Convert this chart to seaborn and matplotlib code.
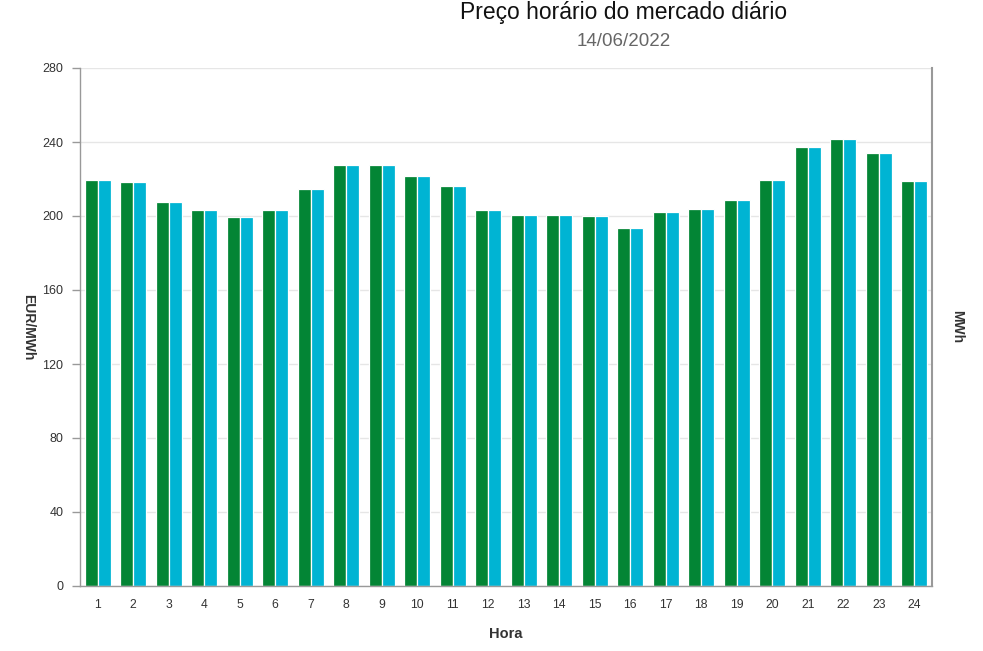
import matplotlib
matplotlib.use("Agg")
import matplotlib.pyplot as plt
import seaborn as sns
import pandas as pd
import numpy as np

hours = [str(h) for h in range(1, 25)]
portugal = [219.5, 218.2, 207.7, 203.2, 199.5, 203.2, 214.4, 227.6, 227.6, 221.8, 216.2, 203.2,
            200.7, 200.7, 200.0, 193.3, 202.2, 203.8, 208.8, 219.5, 237.5, 241.6, 234.2, 218.9]
espanha = [219.5, 218.2, 207.7, 203.2, 199.5, 203.2, 214.4, 227.6, 227.6, 221.8, 216.2, 203.2,
           200.7, 200.7, 200.0, 193.3, 202.2, 203.8, 208.8, 219.5, 237.5, 241.6, 234.2, 218.9]
series_names = ["Portugal", "Espanha"]
colors = ["#038535", "#00b4d3"]
yticks = [0, 40, 80, 120, 160, 200, 240, 280]

df = pd.DataFrame({
    "Hora": hours * 2,
    "Preço": portugal + espanha,
    "Mercado": [series_names[0]] * 24 + [series_names[1]] * 24,
})

sns.set_style("white")
plt.rcParams["font.family"] = ["Liberation Sans", "DejaVu Sans"]

fig = plt.figure(figsize=(9.83, 6.51), dpi=100)
ax = fig.add_axes([80 / 983, 1 - 586 / 651, 852 / 983, 518 / 651])

sns.barplot(data=df, x="Hora", y="Preço", hue="Mercado", palette=colors,
            width=0.74, edgecolor="white", linewidth=0.9, ax=ax, legend=False,
            saturation=1)

ax.set_xlim(-0.5, 23.5)
ax.set_ylim(0, 280)
ax.set_yticks(yticks)
ax.set_yticklabels([str(v) for v in yticks], fontsize=9, color="#333333")
ax.yaxis.grid(True, color="#e6e6e6", linewidth=1)
ax.set_axisbelow(True)

# x ticks: labels at centres, tick marks at boundaries
ax.set_xticks(range(24))
ax.set_xticklabels(hours, fontsize=8.7, color="#333333")
ax.tick_params(axis="x", which="major", length=0, pad=9)
ax.set_xticks(np.arange(-0.5, 24, 1), minor=True)
ax.tick_params(axis="x", which="minor", length=5, color="#999999", width=1)
ax.tick_params(axis="y", which="major", length=6, color="#999999", width=1, pad=6)

for side in ["left", "bottom"]:
    ax.spines[side].set_color("#999999")
    ax.spines[side].set_linewidth(1)
ax.spines["top"].set_visible(False)
ax.spines["right"].set_color("#999999")
ax.spines["right"].set_linewidth(1.5)

ax.set_xlabel("Hora", fontsize=10.5, fontweight="bold", color="#333333", labelpad=12)
ax.set_ylabel("EUR/MWh", fontsize=10, fontweight="bold", color="#333333",
              rotation=-90, labelpad=10, va="center")

ax2 = ax.twinx()
ax2.set_yticks([])
for s in ax2.spines.values():
    s.set_visible(False)
ax2.set_ylabel("MWh", fontsize=10, fontweight="bold", color="#333333",
               rotation=-90, labelpad=18, va="center")

fig.text(624 / 983, 1 - 12 / 651, "Preço horário do mercado diário", ha="center",
         va="center", fontsize=16.5, color="#111111")
fig.text(624 / 983, 1 - 42 / 651, "14/06/2022", ha="center", va="center",
         fontsize=13.5, color="#666666")

fig.savefig("out.png", dpi=100)
